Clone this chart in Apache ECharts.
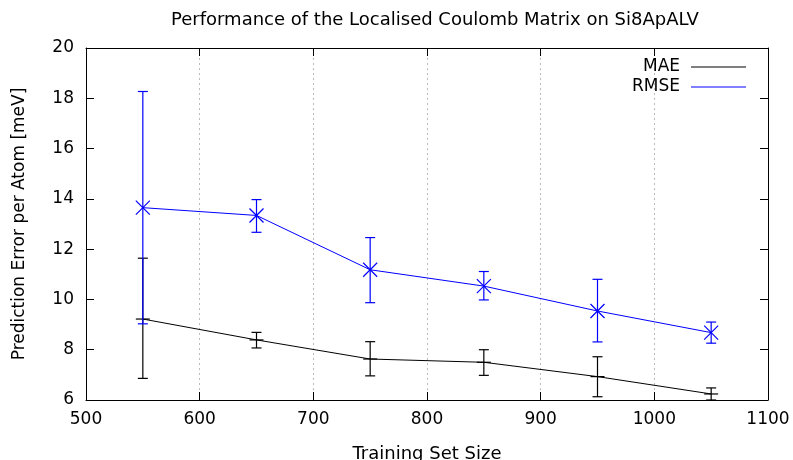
<!DOCTYPE html>
<html>
<head>
<meta charset="utf-8">
<script src="https://cdn.jsdelivr.net/npm/echarts@6/dist/echarts.min.js"></script>
<style>
  html, body { margin: 0; padding: 0; background: #fff; }
  #chart { width: 793px; height: 460px; }
</style>
</head>
<body>
<div id="chart"></div>
<script>
// training set sizes
var sizes = [550, 650, 750, 850, 950, 1050];

// MAE, with error bar low / high
var maeVals = [9.22, 8.39, 7.63, 7.50, 6.93, 6.24];
var maeLow = [6.86, 8.07, 6.96, 6.98, 6.13, 6.00];
var maeHigh = [11.64, 8.69, 8.32, 8.00, 7.72, 6.48];

// RMSE, with error bar low / high
var rmseVals = [13.65, 13.34, 11.18, 10.53, 9.54, 8.68];
var rmseLow = [9.03, 12.67, 9.87, 9.98, 8.31, 8.26];
var rmseHigh = [18.27, 13.97, 12.46, 11.11, 10.80, 9.10];

var FONT = 'DejaVu Sans';

function lineData(vals) {
    return sizes.map(function (s, i) { return [s, vals[i]]; });
}

function barData(vals, lo, hi) {
    return sizes.map(function (s, i) { return [s, vals[i], lo[i], hi[i]]; });
}

// draws error bar + point marker (cross or plus)
function makeErrRender(color, marker) {
    return function (params, api) {
        var x = api.value(0);
        var pt = api.coord([x, api.value(1)]);
        var lo = api.coord([x, api.value(2)]);
        var hi = api.coord([x, api.value(3)]);
        var cap = 5;
        var st = { stroke: color, lineWidth: 1.2 };
        var kids = [
            { type: 'line', shape: { x1: lo[0], y1: lo[1], x2: hi[0], y2: hi[1] }, style: st },
            { type: 'line', shape: { x1: lo[0] - cap, y1: lo[1], x2: lo[0] + cap, y2: lo[1] }, style: st },
            { type: 'line', shape: { x1: hi[0] - cap, y1: hi[1], x2: hi[0] + cap, y2: hi[1] }, style: st }
        ];
        var m = 7;
        if (marker === 'x') {
            kids.push({ type: 'line', shape: { x1: pt[0] - m, y1: pt[1] - m, x2: pt[0] + m, y2: pt[1] + m }, style: st });
            kids.push({ type: 'line', shape: { x1: pt[0] - m, y1: pt[1] + m, x2: pt[0] + m, y2: pt[1] - m }, style: st });
        } else {
            kids.push({ type: 'line', shape: { x1: pt[0] - m, y1: pt[1], x2: pt[0] + m, y2: pt[1] }, style: st });
        }
        return { type: 'group', children: kids };
    };
}

var chart = echarts.init(document.getElementById('chart'), null, { renderer: 'canvas' });

var axisCommon = {
    type: 'value',
    axisLine: { show: true, onZero: false, lineStyle: { color: '#000', width: 1 } },
    axisTick: { show: true, inside: true, length: 8, lineStyle: { color: '#000' } }
};

var option = {
    animation: false,
    backgroundColor: '#fff',
    title: {
        text: 'Performance of the Localised Coulomb Matrix on Si8ApALV',
        left: 166,
        top: 6,
        textStyle: { fontFamily: FONT, fontSize: 18, fontWeight: 'normal', color: '#000' }
    },
    legend: {
        orient: 'vertical',
        right: 47,
        top: 57,
        padding: 0,
        align: 'right',
        itemWidth: 55,
        itemHeight: 1,
        itemGap: 0,
        icon: 'rect',
        textStyle: { fontFamily: FONT, fontSize: 17, color: '#000', lineHeight: 20, padding: [0, 6, 0, 0] },
        data: ['MAE', 'RMSE']
    },
    grid: { left: 86, right: 25, top: 48, bottom: 60, outerBoundsMode: 'none', containLabel: false },
    xAxis: [
        Object.assign({}, axisCommon, {
            position: 'bottom',
            min: 500, max: 1100, interval: 100,
            name: 'Training Set Size',
            nameLocation: 'middle',
            nameGap: 45,
            nameTextStyle: { fontFamily: FONT, fontSize: 18, color: '#000' },
            axisLabel: { fontFamily: FONT, fontSize: 17, color: '#000', margin: 11,
                formatter: function (v) { return String(v); } },
            splitLine: { show: true, lineStyle: { color: '#bbb', type: [2, 3], width: 1 } }
        }),
        Object.assign({}, axisCommon, {
            position: 'top',
            min: 500, max: 1100, interval: 100,
            axisLabel: { show: false },
            splitLine: { show: false }
        })
    ],
    yAxis: [
        Object.assign({}, axisCommon, {
            position: 'left',
            min: 6, max: 20, interval: 2,
            name: 'Prediction Error per Atom [meV]',
            nameLocation: 'middle',
            nameGap: 58,
            nameTextStyle: { fontFamily: FONT, fontSize: 17, color: '#000' },
            axisLabel: { fontFamily: FONT, fontSize: 17, color: '#000', margin: 12 },
            splitLine: { show: false }
        }),
        Object.assign({}, axisCommon, {
            position: 'right',
            min: 6, max: 20, interval: 2,
            axisLabel: { show: false },
            splitLine: { show: false }
        })
    ],
    series: [
        {
            name: 'MAE',
            type: 'line',
            data: lineData(maeVals),
            showSymbol: false,
            color: '#000',
            lineStyle: { color: '#000', width: 1 },
            z: 3
        },
        {
            name: 'RMSE',
            type: 'line',
            data: lineData(rmseVals),
            showSymbol: false,
            color: '#0000ff',
            lineStyle: { color: '#0000ff', width: 1 },
            z: 3
        },
        {
            name: 'MAE-err',
            type: 'custom',
            renderItem: makeErrRender('#000', '+'),
            data: barData(maeVals, maeLow, maeHigh),
            clip: true,
            z: 4
        },
        {
            name: 'RMSE-err',
            type: 'custom',
            renderItem: makeErrRender('#0000ff', 'x'),
            data: barData(rmseVals, rmseLow, rmseHigh),
            clip: true,
            z: 4
        }
    ]
};

chart.setOption(option);
</script>
</body>
</html>
